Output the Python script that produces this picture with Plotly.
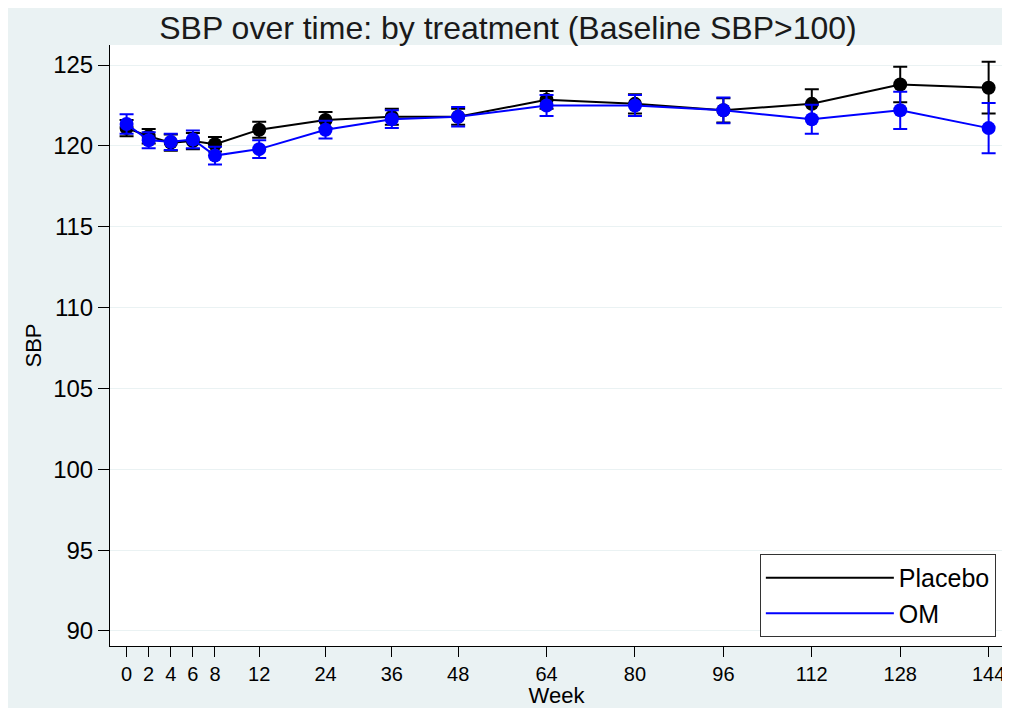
import plotly.graph_objects as go

weeks = [0, 2, 4, 6, 8, 12, 24, 36, 48, 64, 80, 96, 112, 128, 144]
placebo_mean = [121.1, 120.6, 120.2, 120.3, 120.1, 121.0, 121.6, 121.8, 121.8, 122.85, 122.6, 122.2, 122.6, 123.8, 123.6]
placebo_err = [0.5, 0.45, 0.5, 0.5, 0.45, 0.5, 0.5, 0.5, 0.5, 0.55, 0.6, 0.75, 0.9, 1.1, 1.6]
om_mean = [121.35, 120.35, 120.25, 120.4, 119.4, 119.8, 121.0, 121.65, 121.8, 122.5, 122.5, 122.2, 121.65, 122.2, 121.1]
om_err = [0.6, 0.5, 0.5, 0.55, 0.55, 0.55, 0.55, 0.55, 0.6, 0.65, 0.65, 0.8, 0.9, 1.15, 1.55]
tick_labels = [str(w) for w in weeks]
y_ticks = [90, 95, 100, 105, 110, 115, 120, 125]


def week_pos(w):
    # axis is stretched for the early weeks (0-12)
    return 2 * w if w <= 12 else w + 12


xpos = [week_pos(w) for w in weeks]

series = [
    ("Placebo", placebo_mean, placebo_err, "black"),
    ("OM", om_mean, om_err, "#0000FF"),
]

fig = go.Figure()
for name, mean, err, col in series:
    fig.add_trace(go.Scatter(
        x=xpos, y=mean, name=name, mode="lines+markers", showlegend=False,
        line=dict(color=col, width=2),
        marker=dict(color=col, size=14),
        error_y=dict(type="data", array=err, color=col, thickness=2, width=7),
    ))
for name, mean, err, col in series:
    fig.add_trace(go.Scatter(
        x=[None], y=[None], name=name, mode="lines",
        line=dict(color=col, width=2), showlegend=True,
    ))

font = "Liberation Sans, Arial, sans-serif"
fig.update_layout(
    width=1000, height=700,
    margin=dict(l=102, r=3, t=37, b=62),
    paper_bgcolor="#EAF2F3",
    plot_bgcolor="white",
    font=dict(family=font, color="black"),
    title=dict(text="SBP over time: by treatment (Baseline SBP>100)",
               x=0.5, xanchor="center", y=0.972, yanchor="middle",
               font=dict(size=32, color="#1a1a1a")),
    showlegend=True,
    legend=dict(x=0.992, xanchor="right", y=0.015, yanchor="bottom",
                bgcolor="white", bordercolor="#333333", borderwidth=1,
                font=dict(size=25), itemwidth=128),
)
fig.update_xaxes(
    range=[-3.0, 158.6], tickvals=xpos, ticktext=tick_labels,
    showgrid=False, zeroline=False,
    showline=True, linecolor="black", linewidth=1,
    ticks="outside", ticklen=10, tickcolor="black",
    tickfont=dict(size=20),
    title=dict(text="Week", font=dict(size=22), standoff=0),
)
fig.update_yaxes(
    range=[89.07, 126.24], tickvals=y_ticks,
    showgrid=True, gridcolor="#EAF2F3", gridwidth=1, zeroline=False,
    showline=True, linecolor="black", linewidth=1,
    ticks="outside", ticklen=11, tickcolor="black",
    tickfont=dict(size=24),
    title=dict(text="SBP", font=dict(size=22), standoff=5),
)

fig.write_html("out.html")
